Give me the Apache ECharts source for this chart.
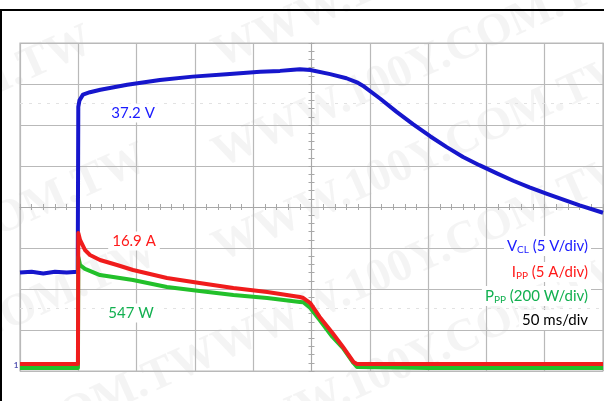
<!DOCTYPE html>
<html>
<head>
<meta charset="utf-8">
<script src="https://cdn.jsdelivr.net/npm/echarts@6/dist/echarts.min.js"></script>
<style>
html,body{margin:0;padding:0;background:#fff;}
#c{width:604px;height:401px;}
</style>
</head>
<body>
<div id="c"></div>
<script>
// time axis: 50 ms/div, 10 divisions
const timeTicks = [0, 50, 100, 150, 200, 250, 300, 350, 400, 450, 500];

// V_CL (V)
const vclTime  = [0, 10, 20, 30, 40, 49.5, 50, 51, 54, 60, 69, 92, 120, 148, 177, 206, 223, 232, 240, 249, 266, 280, 289, 294, 309, 323, 337, 352, 366, 380, 394, 409, 423, 437, 452, 466, 480, 500];
const vclValue = [12.0, 12.1, 11.9, 12.1, 12.0, 12.1, 32.2, 33.0, 33.7, 34.0, 34.3, 34.9, 35.5, 35.9, 36.2, 36.5, 36.6, 36.7, 36.8, 36.7, 36.2, 35.7, 35.2, 34.8, 33.2, 31.6, 30.1, 28.6, 27.3, 26.1, 25.1, 24.1, 23.2, 22.4, 21.6, 20.9, 20.2, 19.3];

// I_PP (A)
const ippTime  = [0, 49.7, 50, 51.5, 55.7, 60, 68.6, 83.2, 96.9, 126, 154, 183, 212, 240, 243, 249, 257, 268, 277, 286, 289, 350, 400, 450, 500];
const ippValue = [0.85, 0.85, 16.83, 15.98, 14.76, 14.15, 13.54, 12.93, 12.32, 11.34, 10.73, 10.12, 9.63, 9.02, 8.9, 8.29, 6.59, 4.63, 2.93, 1.10, 0.85, 0.85, 0.85, 0.85, 0.85];

// P_PP (W)
const pppTime  = [0, 49.7, 50, 51.5, 55.7, 68.6, 96.9, 126, 154, 183, 212, 240, 243, 249, 257, 268, 277, 286, 289, 350, 400, 450, 500];
const pppValue = [14.6, 14.6, 556, 517, 498, 468, 444, 410, 390, 371, 356, 337, 335, 307, 249, 166, 112, 39, 20, 14.6, 14.6, 14.6, 14.6];

// cursor levels (V scale)
const cursorLevels = [32.7, 7.6];

// annotations
const vclLabel = '37.2 V';
const ippLabel = '16.9 A';
const pppLabel = '547 W';
const watermark = 'WWW.100Y.COM.TW';

const zip = (a, b) => a.map((t, i) => [t, b[i]]);

const FONT = 'Lato';
const gridColor = '#b9b9b9';

const chart = echarts.init(document.getElementById('c'), null, {renderer: 'canvas'});

const hidden = {show: false};
const centerTickColor = '#a8a8a8';

const wmStyle = (x, y, align) => ({
  type: 'text', x: x, y: y, rotation: 0.42, z: -1, silent: true,
  style: {
    text: watermark, fill: 'rgba(170,170,170,0.13)',
    font: 'bold 46px "Liberation Serif"', textAlign: align, textVerticalAlign: 'bottom'
  }
});

const legendText = (y, rich, text) => ({
  type: 'text', x: 591, y: y, z: 50,
  style: {
    text: text, rich: rich, textAlign: 'right', textVerticalAlign: 'middle',
    backgroundColor: '#fff', padding: [1, 3, 1, 3]
  }
});

const mkRich = (color) => ({
  m: {fontFamily: FONT, fontSize: 15, fill: color, lineHeight: 18},
  s: {fontFamily: FONT, fontSize: 10, fill: color, lineHeight: 10, verticalAlign: 'bottom'}
});

chart.setOption({
  animation: false,
  backgroundColor: '#fff',
  grid: {left: 20, top: 43, width: 583, height: 328, show: true, borderColor: gridColor, borderWidth: 1.2},
  xAxis: [
    {type: 'value', min: 0, max: 500, interval: 50, axisLine: hidden, axisTick: hidden, axisLabel: hidden,
     splitLine: {show: true, lineStyle: {color: gridColor, width: 1.2}}},
    {type: 'value', min: 0, max: 500, interval: 50, position: 'bottom', offset: -164,
     axisLine: {show: true, lineStyle: {color: centerTickColor, width: 1}}, axisLabel: hidden,
     axisTick: {show: true, length: 3, inside: false, lineStyle: {color: centerTickColor}},
     minorTick: {show: true, splitNumber: 5, length: 3, lineStyle: {color: centerTickColor}}, splitLine: hidden},
    {type: 'value', min: 0, max: 500, interval: 50, position: 'bottom', offset: -164,
     axisLine: hidden, axisLabel: hidden,
     axisTick: {show: true, length: 3, inside: true, lineStyle: {color: centerTickColor}},
     minorTick: {show: true, splitNumber: 5, length: 3, lineStyle: {color: centerTickColor}}, splitLine: hidden}
  ],
  yAxis: [
    {type: 'value', min: 0, max: 40, interval: 5, axisLine: hidden, axisTick: hidden, axisLabel: hidden,
     splitLine: {show: true, lineStyle: {color: gridColor, width: 1.2}}},
    {type: 'value', min: 0, max: 40, interval: 5, show: false},
    {type: 'value', min: 0, max: 1600, interval: 200, show: false},
    {type: 'value', min: 0, max: 8, interval: 1, position: 'left', offset: -291.5,
     axisLine: {show: true, lineStyle: {color: centerTickColor, width: 1}}, axisLabel: hidden,
     axisTick: {show: true, length: 3, inside: false, lineStyle: {color: centerTickColor}},
     minorTick: {show: true, splitNumber: 5, length: 3, lineStyle: {color: centerTickColor}}, splitLine: hidden},
    {type: 'value', min: 0, max: 8, interval: 1, position: 'left', offset: -291.5,
     axisLine: hidden, axisLabel: hidden,
     axisTick: {show: true, length: 3, inside: true, lineStyle: {color: centerTickColor}},
     minorTick: {show: true, splitNumber: 5, length: 3, lineStyle: {color: centerTickColor}}, splitLine: hidden}
  ],
  series: [
    {type: 'line', name: 'VCL', xAxisIndex: 0, yAxisIndex: 0, data: zip(vclTime, vclValue),
     showSymbol: false, lineStyle: {color: '#1616cc', width: 4, join: 'round'}, z: 5,
     markLine: {silent: true, symbol: 'none', label: {show: false},
       lineStyle: {color: '#e2e2e2', type: [3, 6], width: 1.2},
       data: cursorLevels.map(v => ({yAxis: v}))}},
    {type: 'line', name: 'PPP', xAxisIndex: 0, yAxisIndex: 2, data: zip(pppTime, pppValue),
     showSymbol: false, lineStyle: {color: '#22c02a', width: 4, join: 'round'}, z: 6},
    {type: 'line', name: 'IPP', xAxisIndex: 0, yAxisIndex: 1, data: zip(ippTime, ippValue),
     showSymbol: false, lineStyle: {color: '#f01c1c', width: 4, join: 'round'}, z: 7}
  ],
  graphic: [
    wmStyle(100, 60, 'right'),
    wmStyle(155, 178, 'right'),
    wmStyle(165, 272, 'right'),
    wmStyle(225, 372, 'right'),
    wmStyle(225, 78, 'left'),
    wmStyle(225, 178, 'left'),
    wmStyle(225, 272, 'left'),
    wmStyle(225, 372, 'left'),
    wmStyle(225, 470, 'left'),
    {type: 'rect', shape: {x: 0, y: 9, width: 604, height: 2}, style: {fill: '#000'}, z: 60},
    {type: 'rect', shape: {x: 0, y: 9, width: 2, height: 392}, style: {fill: '#000'}, z: 60},
    {type: 'text', x: 133, y: 113, z: 50, style: {text: vclLabel, font: '15px ' + FONT, fill: '#1a1aff',
      textAlign: 'center', textVerticalAlign: 'middle', backgroundColor: '#fff', padding: [2, 4, 2, 4]}},
    {type: 'text', x: 134, y: 241, z: 50, style: {text: ippLabel, font: '15px ' + FONT, fill: '#ff1a1a',
      textAlign: 'center', textVerticalAlign: 'middle', backgroundColor: '#fff', padding: [2, 4, 2, 4]}},
    {type: 'text', x: 131, y: 313, z: 50, style: {text: pppLabel, font: '15px ' + FONT, fill: '#12b050',
      textAlign: 'center', textVerticalAlign: 'middle', backgroundColor: '#fff', padding: [2, 4, 2, 4]}},
    legendText(246, mkRich('#1a1aff'), '{m|V}{s|CL}{m| (5 V/div)}'),
    legendText(272, mkRich('#ff1a1a'), '{m|I}{s|PP}{m| (5 A/div)}'),
    legendText(296, mkRich('#12b050'), '{m|P}{s|PP}{m| (200 W/div)}'),
    legendText(320, mkRich('#000'), '{m|50 ms/div}'),
    {type: 'text', x: 16, y: 365, z: 50, style: {text: '1', font: 'bold 8px ' + FONT, fill: '#5050b0',
      textAlign: 'center', textVerticalAlign: 'middle'}}
  ]
});
</script>
</body>
</html>
